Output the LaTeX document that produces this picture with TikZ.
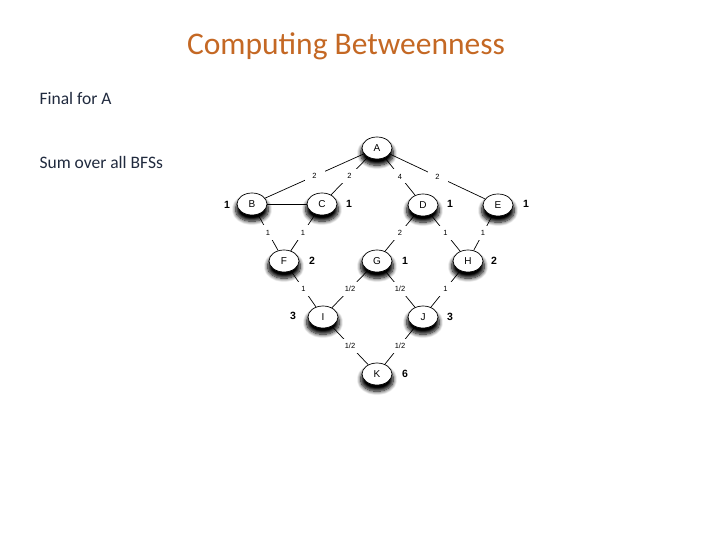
\documentclass[tikz,border=0pt]{standalone}
\usepackage{fontspec}
\setmainfont{Carlito}
\newfontfamily\diagfont{Liberation Sans}
\usetikzlibrary{shapes.geometric,shadows.blur}
\definecolor{titleorange}{RGB}{196,104,36}
\definecolor{bodytext}{RGB}{32,42,62}
\tikzset{
  vtx/.style={ellipse,draw=black,line width=0.7pt,fill=white,minimum width=30pt,minimum height=22pt,inner sep=0pt,
    font=\diagfont\fontsize{10}{10}\selectfont,
    blur shadow={shadow xshift=0pt,shadow yshift=-5pt,shadow scale=1.08,shadow blur steps=10,shadow opacity=100,shadow blur radius=3.5pt,shadow blur extra rounding=2pt}},
  side/.style={font=\diagfont\bfseries\fontsize{10.5}{11}\selectfont,inner sep=0pt},
  elab/.style={font=\diagfont\fontsize{7.5}{8}\selectfont,fill=white,inner sep=0pt,minimum width=20pt,minimum height=14pt},
  edge/.style={line width=0.7pt,black}
}
\begin{document}
\begin{tikzpicture}[x=1pt,y=-1pt]
\useasboundingbox (0,0) rectangle (720,540);
\node[font=\fontsize{31.5}{33}\selectfont,text=titleorange] (title) at (346,46) {Computing Betweenness};
\node[font=\fontsize{17.5}{19}\selectfont,text=bodytext,anchor=west] (fin) at (36,98) {Final for A};
\node[font=\fontsize{17.5}{19}\selectfont,text=bodytext,anchor=west] (sum) at (36,162) {Sum over all BFSs};
% vertices
\node[vtx] (A) at (377,148) {A};
\node[vtx] (B) at (252,204) {B};
\node[vtx] (C) at (322,204) {C};
\node[vtx] (D) at (423,205) {D};
\node[vtx] (E) at (498,205) {E};
\node[vtx] (F) at (284,261) {F};
\node[vtx] (G) at (377,261) {G};
\node[vtx] (H) at (468,261) {H};
\node[vtx] (I) at (323,317) {I};
\node[vtx] (J) at (423,317) {J};
\node[vtx] (K) at (377,374) {K};
% side numbers
\node[side] (sB) at (227,205) {1};
\node[side] (sC) at (349,204) {1};
\node[side] (sD) at (450,204) {1};
\node[side] (sE) at (526,204) {1};
\node[side] (sF) at (312,261) {2};
\node[side] (sG) at (405,261) {1};
\node[side] (sH) at (494,261) {2};
\node[side] (sI) at (293,316) {3};
\node[side] (sJ) at (450,317) {3};
\node[side] (sK) at (405,374) {6};
% edges
\draw[edge] (A) -- node[elab] (lAB) {2} (B);
\draw[edge] (A) -- node[elab] (lAC) {2} (C);
\draw[edge] (A) -- node[elab] (lAD) {4} (D);
\draw[edge] (A) -- node[elab] (lAE) {2} (E);
\draw[edge] (B) -- (C);
\draw[edge] (B) -- node[elab] (lBF) {1} (F);
\draw[edge] (C) -- node[elab] (lCF) {1} (F);
\draw[edge] (D) -- node[elab] (lDG) {2} (G);
\draw[edge] (D) -- node[elab] (lDH) {1} (H);
\draw[edge] (E) -- node[elab] (lEH) {1} (H);
\draw[edge] (F) -- node[elab] (lFI) {1} (I);
\draw[edge] (G) -- node[elab] (lGI) {1/2} (I);
\draw[edge] (G) -- node[elab] (lGJ) {1/2} (J);
\draw[edge] (H) -- node[elab] (lHJ) {1} (J);
\draw[edge] (I) -- node[elab] (lIK) {1/2} (K);
\draw[edge] (J) -- node[elab] (lJK) {1/2} (K);
\end{tikzpicture}
\end{document}
